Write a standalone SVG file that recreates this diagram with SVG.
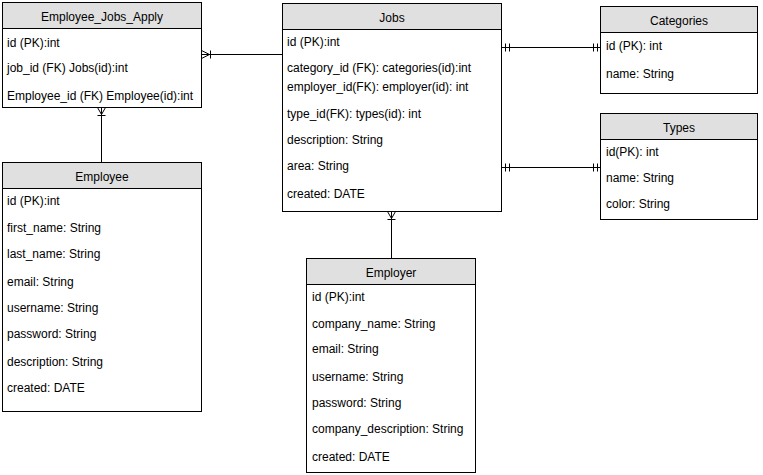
<svg xmlns="http://www.w3.org/2000/svg" width="763" height="475" viewBox="0 0 763 475">
<style>
.box{fill:#ffffff;stroke:#000000;stroke-width:1}
.hdr{fill:#e0e0e0;stroke:#000000;stroke-width:1}
.t{font-family:"Liberation Sans",Arial,sans-serif;font-size:12px;fill:#000000}
.c{text-anchor:middle}
.ln{fill:none;stroke:#000000;stroke-width:1}
</style>
<rect width="763" height="475" fill="#ffffff"/>
<g id="connectors">
  <path class="ln" d="M201.5 54.5 H282.5 M201.5 50.5 L209.5 54.5 L201.5 58.5 M210.5 50.5 V58.5"/>
  <path class="ln" d="M101.5 107.5 V162.5 M97.5 107.5 L101.5 114.5 L105.5 107.5 M97.5 115.5 H105.5"/>
  <path class="ln" d="M391.5 211.5 V258.5 M387.5 211.5 L391.5 218.5 L395.5 211.5 M387.5 219.5 H395.5"/>
  <path class="ln" d="M501.5 47.5 H600.5 M505.5 43.5 V51.5 M509.5 43.5 V51.5 M593.5 43.5 V51.5 M597.5 43.5 V51.5"/>
  <path class="ln" d="M501.5 167.5 H600.5 M505.5 163.5 V171.5 M509.5 163.5 V171.5 M593.5 163.5 V171.5 M597.5 163.5 V171.5"/>
</g>
<g id="employee_jobs_apply">
  <rect class="box" x="2.5" y="2.5" width="199" height="105"/>
  <rect class="hdr" x="2.5" y="2.5" width="199" height="26"/>
  <text class="t c" x="102" y="21">Employee_Jobs_Apply</text>
  <text class="t" x="7" y="47">id (PK):int</text>
  <text class="t" x="7" y="72">job_id (FK) Jobs(id):int</text>
  <text class="t" x="7" y="100">Employee_id (FK) Employee(id):int</text>
</g>
<g id="jobs">
  <rect class="box" x="282.5" y="3.5" width="219" height="208"/>
  <rect class="hdr" x="282.5" y="3.5" width="219" height="26"/>
  <text class="t c" x="392" y="22">Jobs</text>
  <text class="t" x="287" y="46">id (PK):int</text>
  <text class="t" x="287" y="72">category_id (FK): categories(id):int</text>
  <text class="t" x="287" y="91">employer_id(FK): employer(id): int</text>
  <text class="t" x="287" y="118">type_id(FK): types(id): int</text>
  <text class="t" x="287" y="144">description: String</text>
  <text class="t" x="287" y="170">area: String</text>
  <text class="t" x="287" y="198">created: DATE</text>
</g>
<g id="categories">
  <rect class="box" x="600.5" y="6.5" width="157" height="87"/>
  <rect class="hdr" x="600.5" y="6.5" width="157" height="26"/>
  <text class="t c" x="679" y="25">Categories</text>
  <text class="t" x="606" y="50">id (PK): int</text>
  <text class="t" x="606" y="78">name: String</text>
</g>
<g id="types">
  <rect class="box" x="600.5" y="113.5" width="157" height="106"/>
  <rect class="hdr" x="600.5" y="113.5" width="157" height="26"/>
  <text class="t c" x="679" y="132">Types</text>
  <text class="t" x="606" y="156">id(PK): int</text>
  <text class="t" x="606" y="182">name: String</text>
  <text class="t" x="606" y="208">color: String</text>
</g>
<g id="employee">
  <rect class="box" x="2.5" y="162.5" width="199" height="249"/>
  <rect class="hdr" x="2.5" y="162.5" width="199" height="26"/>
  <text class="t c" x="102" y="181">Employee</text>
  <text class="t" x="7" y="205">id (PK):int</text>
  <text class="t" x="7" y="232">first_name: String</text>
  <text class="t" x="7" y="258">last_name: String</text>
  <text class="t" x="7" y="286">email: String</text>
  <text class="t" x="7" y="312">username: String</text>
  <text class="t" x="7" y="338">password: String</text>
  <text class="t" x="7" y="366">description: String</text>
  <text class="t" x="7" y="392">created: DATE</text>
</g>
<g id="employer">
  <rect class="box" x="306.5" y="258.5" width="169" height="214"/>
  <rect class="hdr" x="306.5" y="258.5" width="169" height="26"/>
  <text class="t c" x="391" y="277">Employer</text>
  <text class="t" x="312" y="301">id (PK):int</text>
  <text class="t" x="312" y="328">company_name: String</text>
  <text class="t" x="312" y="353">email: String</text>
  <text class="t" x="312" y="381">username: String</text>
  <text class="t" x="312" y="407">password: String</text>
  <text class="t" x="312" y="433">company_description: String</text>
  <text class="t" x="312" y="461">created: DATE</text>
</g>
</svg>
